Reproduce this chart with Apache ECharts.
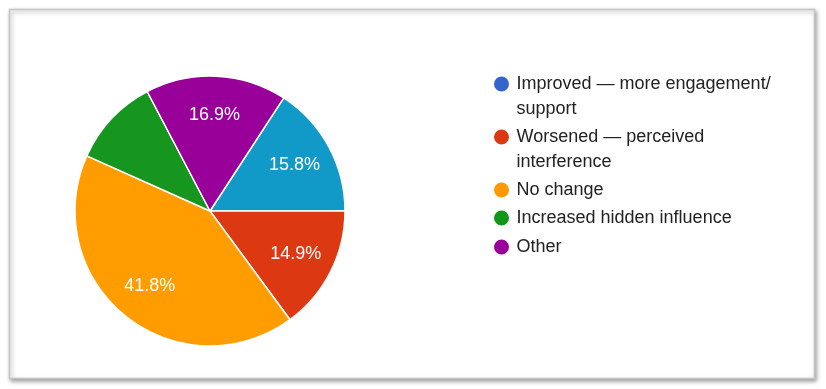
<!DOCTYPE html>
<html><head><meta charset="utf-8">
<script src="https://cdn.jsdelivr.net/npm/echarts@6/dist/echarts.min.js"></script>
<style>html,body{margin:0;padding:0;background:#fff}#c{width:826px;height:389px}</style>
</head><body><div id="c"></div>
<script>
const categories = ['Improved — more engagement/\nsupport', 'Worsened — perceived\ninterference', 'No change', 'Increased hidden influence', 'Other'];
const values = [15.8, 14.9, 41.8, 10.6, 16.9];
const sliceColors = ['#1199C8', '#DC3912', '#FF9D00', '#16961F', '#990099'];
const legendColors = ['#3366CC', '#DC3912', '#FF9900', '#109618', '#990099'];
const legendIconY = [84, 137, 190, 218, 247];

const FONT = '"Liberation Sans", Arial, sans-serif';
const LH = 25;
const cx = 210, cy = 211, R = 135;

const pieData = categories.map((n, i) => ({ name: n, value: values[i], itemStyle: { color: sliceColors[i] } }));

const legends = categories.map((n, i) => {
  const lines = n.split('\n').length;
  const total = 2 * lines - 1; // blank lines prepended so first line is centered on icon
  return {
    orient: 'vertical',
    left: 492,
    top: legendIconY[i] - total * LH / 2,
    icon: 'circle',
    itemWidth: 20,
    itemHeight: 17,
    itemGap: 0,
    selectedMode: false,
    padding: 0,
    data: [{ name: n, itemStyle: { color: legendColors[i] } }],
    formatter: name => '\n'.repeat(lines - 1) + name,
    textStyle: { fontFamily: FONT, fontSize: 18, color: '#222', lineHeight: LH }
  };
});

const chart = echarts.init(document.getElementById('c'), null, { renderer: 'canvas' });
chart.setOption({
  animation: false,
  backgroundColor: '#fff',
  graphic: [{
    type: 'rect', z: 0, silent: true,
    shape: { x: 9.5, y: 9.5, width: 805, height: 369 },
    style: { fill: '#fff', stroke: '#c4c4c4', lineWidth: 1.5, shadowBlur: 4, shadowOffsetX: 1.5, shadowOffsetY: 2, shadowColor: 'rgba(0,0,0,0.35)' }
  }],
  legend: legends,
  series: [{
    type: 'pie', z: 2,
    center: [cx, cy], radius: [0, R],
    startAngle: values[0] * 3.6, clockwise: true,
    data: pieData,
    label: { show: false }, labelLine: { show: false },
    itemStyle: { borderColor: '#fff', borderWidth: 1.5 },
    emphasis: { disabled: true }, silent: true
  }, {
    type: 'pie', z: 3,
    center: [cx, cy], radius: [R * 0.38, R],
    startAngle: values[0] * 3.6, clockwise: true,
    data: categories.map((n, i) => ({ name: n, value: values[i] })),
    itemStyle: { color: 'rgba(0,0,0,0)' },
    minShowLabelAngle: 45,
    label: { show: true, position: 'inside', formatter: p => p.value.toFixed(1) + '%', color: '#fff', fontFamily: FONT, fontSize: 18 },
    labelLine: { show: false },
    emphasis: { disabled: true }, silent: true, legendHoverLink: false
  }]
});
</script></body></html>
